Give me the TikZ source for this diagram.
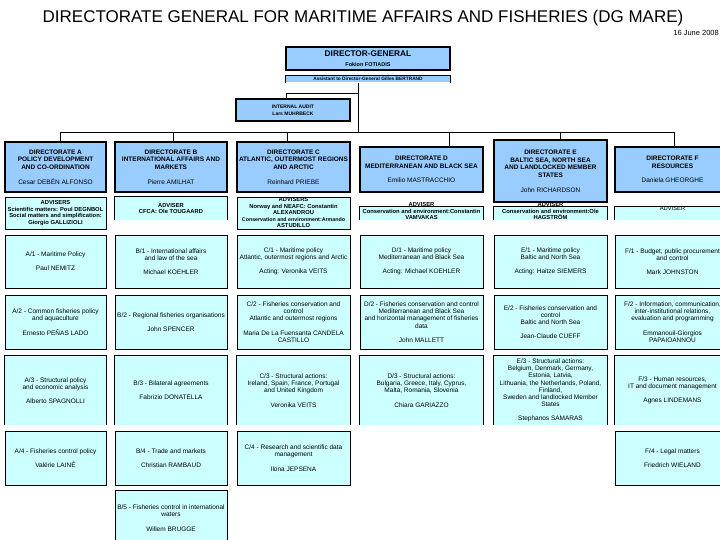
\documentclass[tikz,border=0pt]{standalone}
\usepackage{fontspec}
\setmainfont{Liberation Sans}
\definecolor{mareblue}{RGB}{153,204,255}
\definecolor{marecyan}{RGB}{204,255,255}

\begin{document}
\begin{tikzpicture}[x=1pt,y=-1pt,
    dirbox/.style={draw,line width=1.1pt,fill=mareblue,inner sep=0pt,align=center,
      font=\fontsize{6.5}{7.7}\selectfont\bfseries},
    advbox/.style={draw,line width=.9pt,fill=marecyan,inner sep=0pt,align=center,
      font=\fontsize{5.8}{6.5}\selectfont\bfseries},
    advtext/.style={inner sep=0pt,align=center,font=\fontsize{5.8}{6.5}\selectfont\bfseries},
    unitbox/.style={draw,line width=.9pt,fill=marecyan,inner sep=0pt,align=center,
      font=\fontsize{6.5}{7.2}\selectfont},
    openbox/.style={draw=none},
    link/.style={line width=.9pt},
    colA/.style={minimum width=101pt},
    colB/.style={minimum width=112pt},
    colC/.style={minimum width=113pt},
    colD/.style={minimum width=123pt},
    colE/.style={minimum width=113pt},
    colF/.style={minimum width=115pt},
    r1/.style={minimum height=53pt},
    r2/.style={minimum height=54pt},
    r3/.style={minimum height=69pt},
    r4/.style={minimum height=54pt}]
  \useasboundingbox (0,0) rectangle (720,540);

  \node[font=\fontsize{17}{20}\selectfont] (title) at (363,18)
    {DIRECTORATE GENERAL FOR MARITIME AFFAIRS AND FISHERIES (DG MARE)};
  \node[anchor=east,inner sep=0pt,font=\fontsize{7.5}{8}\selectfont] (date) at (719,33) {16 June 2008};

  % top of the chart
  \node[dirbox,minimum width=164pt,minimum height=23pt,font=\fontsize{8.3}{9.5}\selectfont\bfseries] (dg) at (368,58.5)
    {DIRECTOR-GENERAL\\\fontsize{5.5}{6}\selectfont Fokion FOTIADIS};
  \node[dirbox,openbox,minimum width=164pt,minimum height=6pt,font=\fontsize{4.8}{5}\selectfont\bfseries] (asst) at (368,79)
    {Assistant to Director-General Gilles BERTRAND};
  \node[dirbox,minimum width=114pt,minimum height=22pt,font=\fontsize{5}{7}\selectfont\bfseries] (audit) at (293,110)
    {INTERNAL AUDIT\\Lars MUHRBECK};

  \coordinate (trunk) at (358,132);
  \coordinate (auditTap) at (286,93);
  \coordinate (busW) at (60,132);
  \coordinate (busE) at (674,132);
  \draw[link] (asst.south -| trunk) -- (trunk);
  \draw[link] (auditTap |- audit.north) -- (auditTap) -- (auditTap -| trunk);
  \draw[link] (busW) -- (busE);

  % directorates
  \node[dirbox,colA,minimum height=50pt] (dirA) at (55.5,167)
    {DIRECTORATE A\\POLICY DEVELOPMENT\\AND CO-ORDINATION\\[7pt]\mdseries Cesar DEBÉN ALFONSO};
  \node[dirbox,colB,minimum height=50pt] (dirB) at (171,167)
    {DIRECTORATE B\\INTERNATIONAL AFFAIRS AND\\MARKETS\\[7pt]\mdseries Pierre AMILHAT};
  \node[dirbox,colC,minimum height=50pt] (dirC) at (293.5,167)
    {DIRECTORATE C\\ATLANTIC, OUTERMOST REGIONS\\AND ARCTIC\\[7pt]\mdseries Reinhard PRIEBE};
  \node[dirbox,colD,minimum height=45pt] (dirD) at (421.5,169.5)
    {DIRECTORATE D\\MEDITERRANEAN AND BLACK SEA\\[7pt]\mdseries Emilio MASTRACCHIO};
  \node[dirbox,colE,minimum height=62pt] (dirE) at (550.5,171)
    {DIRECTORATE E\\BALTIC SEA, NORTH SEA\\AND LANDLOCKED MEMBER\\STATES\\[7pt]\mdseries John RICHARDSON};
  \node[dirbox,colF,minimum height=45pt] (dirF) at (672.5,169.5)
    {DIRECTORATE F\\RESOURCES\\[7pt]\mdseries Daniela GHEORGHE};

  \foreach \x/\d in {60/dirA,173/dirB,287/dirC,449/dirD,560/dirE,674/dirF}
    \draw[link] (\x,132) -- (\x,132 |- \d.north);

  % advisers
  \node[advbox,colA,minimum height=32pt] (advA) at (55.5,213)
    {ADVISERS\\Scientific matters: Poul DEGNBOL\\Social matters and simplification:\\Giorgio GALLIZIOLI};
  \node[advbox,openbox,colB,minimum height=23pt] (advB) at (171,208.5)
    {ADVISER\\CFCA: Ole TOUGAARD};
  \node[advbox,colC,minimum height=32pt] (advC) at (293.5,213)
    {ADVISERS\\Norway and NEAFC: Constantin\\ALEXANDROU\\\fontsize{5.3}{6.5}\selectfont Conservation and environment:Armando\\ASTUDILLO};
  \node[advbox,openbox,colD,minimum height=13pt] (advD) at (421.5,213.5) {};
  \node[advbox,openbox,colE,minimum height=13pt] (advE) at (550.5,213.5) {};
  \node[advbox,openbox,colF,minimum height=13pt] (advF) at (672.5,213.5) {};
  \node[advtext] (advDtext) at (421.5,211.5) {ADVISER\\Conservation and environment:Constantin\\VAMVAKAS};
  \node[advtext] (advEtext) at (550.5,211.5) {ADVISER\\Conservation and environment:Ole\\HAGSTRÖM};
  \node[advtext,font=\fontsize{5.8}{6.5}\selectfont] (advFtext) at (672.5,209) {ADVISER};

  % units, first row
  \node[unitbox,colA,r1] (a1) at (55.5,261.5) {A/1 - Maritime Policy\\[7pt]Paul NEMITZ};
  \node[unitbox,colB,r1] (b1) at (171,261.5) {B/1 - International affairs\\and law of the sea\\[7pt]Michael KOEHLER};
  \node[unitbox,colC,r1] (c1) at (293.5,261.5) {C/1 - Maritime policy\\Atlantic, outermost regions and Arctic\\[7pt]Acting: Veronika VEITS};
  \node[unitbox,colD,r1] (d1) at (421.5,261.5) {D/1 - Maritime policy\\Mediterranean and Black Sea\\[7pt]Acting: Michael KOEHLER};
  \node[unitbox,colE,r1] (e1) at (550.5,261.5) {E/1 - Maritime policy\\Baltic and North Sea\\[7pt]Acting: Haitze SIEMERS};
  \node[unitbox,colF,r1] (f1) at (672.5,261.5) {F/1 - Budget, public procurement\\and control\\[7pt]Mark JOHNSTON};

  % second row
  \node[unitbox,colA,r2] (a2) at (55.5,322) {A/2 - Common fisheries policy\\and aquaculture\\[7pt]Ernesto PEÑAS LADO};
  \node[unitbox,colB,r2] (b2) at (171,322) {B/2 - Regional fisheries organisations\\[7pt]John SPENCER};
  \node[unitbox,colC,r2] (c2) at (293.5,322) {C/2 - Fisheries conservation and\\control\\Atlantic and outermost regions\\[7pt]Maria De La Fuensanta CANDELA\\CASTILLO};
  \node[unitbox,colD,r2] (d2) at (421.5,322) {D/2 - Fisheries conservation and control\\Mediterranean and Black Sea\\and horizontal management of fisheries\\data\\[7pt]John MALLETT};
  \node[unitbox,colE,r2] (e2) at (550.5,322) {E/2 - Fisheries conservation and\\control\\Baltic and North Sea\\[7pt]Jean-Claude CUEFF};
  \node[unitbox,colF,r2] (f2) at (672.5,322) {F/2 - Information, communication,\\inter-institutional relations,\\evaluation and programming\\[7pt]Emmanouil-Giorgios\\PAPAIOANNOU};

  % third row
  \node[unitbox,openbox,colA,r3] (a3) at (55.5,390.5) {A/3 - Structural policy\\and economic analysis\\[7pt]Alberto SPAGNOLLI};
  \node[unitbox,openbox,colB,r3] (b3) at (171,390.5) {B/3 - Bilateral agreements\\[7pt]Fabrizio DONATELLA};
  \node[unitbox,openbox,colC,r3] (c3) at (293.5,390.5) {C/3 - Structural actions:\\Ireland, Spain, France, Portugal\\and United Kingdom\\[7pt]Veronika VEITS};
  \node[unitbox,openbox,colD,r3] (d3) at (421.5,390.5) {D/3 - Structural actions:\\Bulgaria, Greece, Italy, Cyprus,\\Malta, Romania, Slovenia\\[7pt]Chiara GARIAZZO};
  \node[unitbox,openbox,colE,r3] (e3) at (550.5,390.5) {E/3 - Structural actions:\\Belgium, Denmark, Germany,\\Estonia, Latvia,\\Lithuania, the Netherlands, Poland,\\Finland,\\Sweden and landlocked Member\\States\\[7pt]Stephanos SAMARAS};
  \node[unitbox,openbox,colF,r3] (f3) at (672.5,390.5) {F/3 - Human resources,\\IT and document management\\[7pt]Agnes LINDEMANS};

  % fourth and fifth row
  \node[unitbox,colA,r4] (a4) at (55.5,458) {A/4 - Fisheries control policy\\[7pt]Valérie LAINÉ};
  \node[unitbox,colB,r4] (b4) at (171,458) {B/4 - Trade and markets\\[7pt]Christian RAMBAUD};
  \node[unitbox,colC,r4] (c4) at (293.5,458) {C/4 - Research and scientific data\\management\\[7pt]Ilona JEPSENA};
  \node[unitbox,colF,r4] (f4) at (672.5,458) {F/4 - Legal matters\\[7pt]Friedrich WIELAND};
  \node[unitbox,colB,minimum height=56pt] (b5) at (171,518) {B/5 - Fisheries control in international\\waters\\[7pt]Willem BRUGGE};

  % boxes drawn without a bottom edge
  \foreach \b in {asst,advB,advD,advE,advF,a3,b3,c3,d3,e3,f3}
    \draw[line width=.9pt] (\b.south west) |- (\b.north east) -- (\b.south east);
\end{tikzpicture}
\end{document}
